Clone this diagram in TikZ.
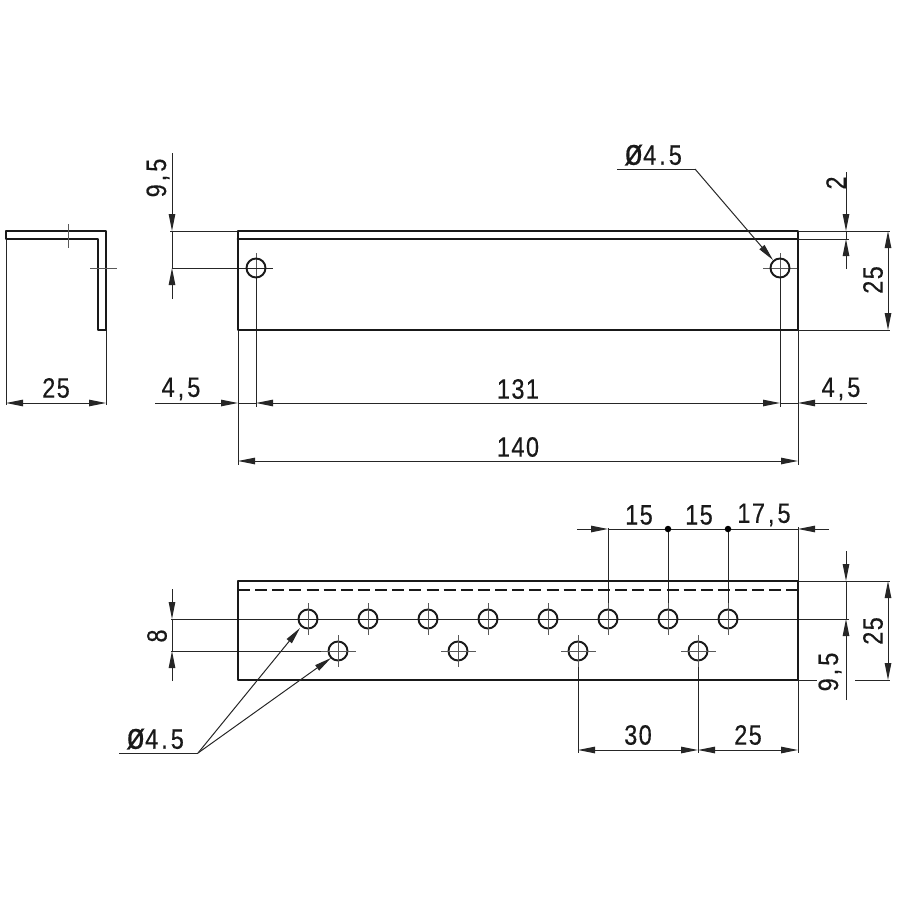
\documentclass[tikz,border=0pt]{standalone}
\usepackage{fontspec}
\setmainfont[FakeStretch=0.84,LetterSpace=5,FakeBold=0.4]{Liberation Sans}
\usetikzlibrary{arrows.meta}
\newcommand{\cma}{\hspace{3pt},\hspace{3pt}}
\newcommand{\pht}{\hspace{3pt}.\hspace{3pt}}
\newcommand{\phisym}{{\fontsize{37}{37}\selectfont ø}}
\tikzset{
  outline/.style={line width=2.7pt,black!90,line cap=round,line join=round},
  thin line/.style={line width=1pt,black!85},
  center line/.style={line width=0.7pt,black!65},
  hole/.style={line width=1.9pt,black!90},
  dim/.style={line width=1pt,black!85,{Stealth[length=17pt,width=6.5pt,inset=0pt]}-{Stealth[length=17pt,width=6.5pt,inset=0pt]}},
  dimend/.style={line width=1pt,black!85,-{Stealth[length=17pt,width=6.5pt,inset=0pt]}},
  label/.style={font=\fontsize{28}{28}\selectfont,inner sep=0pt,text=black!90},
  vlabel/.style={label,rotate=90},
  junction/.style={circle,fill=black,inner sep=0pt,minimum size=6.5pt}
}
\begin{document}
\begin{tikzpicture}[x=1pt,y=-1pt]
\useasboundingbox (0,0) rectangle (900,900);
% side view
\draw[thin line] (6,239) -- (6,405);
\draw[thin line] (106,330) -- (106,405);
\draw[outline] (6,239) -- (6,231) -- (106,231) -- (106,330) -- (98,330) -- (98,239) -- cycle;
\draw[center line] (68,224) -- (68,248);
\draw[center line] (90,268) -- (117,268);
\draw[dim] (6,403) -- (106,403);
\node[label] (side25) at (56,388) {25};
% top view
\coordinate (ht1) at (256,268);
\coordinate (ht2) at (780,268);
\draw[center line] (256,253) -- (256,278);
\draw[center line] (763,268) -- (798,268);
\draw[center line] (780,253) -- (780,278);
\draw[thin line] (172,268) -- (273,268);
\draw[thin line] (170,231) -- (238,231);
\draw[thin line] (256,278) -- (256,407);
\draw[thin line] (780,278) -- (780,407);
\draw[thin line] (238,330) -- (238,465);
\draw[thin line] (798,330) -- (798,465);
\draw[outline] (238,231) rectangle (798,330);
\draw[outline] (238,239) -- (798,239);
\draw[hole] (ht1) circle (9.5);
\draw[hole] (ht2) circle (9.5);
\draw[dimend] (172,153) -- (172,231);
\draw[dimend] (172,299) -- (172,268);
\draw[thin line] (172,231) -- (172,268);
\node[vlabel] (t95) at (158,178) {9\cma5};
\draw[dimend] (155,403) -- (238,403);
\draw[thin line] (238,403) -- (256,403);
\draw[dim] (256,403) -- (780,403);
\draw[thin line] (780,403) -- (798,403);
\draw[dimend] (867,403) -- (798,403);
\node[label] (t45l) at (181,389) {4\cma5};
\node[label] (t131) at (518,389) {131};
\node[label] (t45r) at (841,389) {4\cma5};
\draw[dim] (238,461) -- (798,461);
\node[label] (t140) at (518,447) {140};
\draw[thin line] (617,169) -- (695,169);
\draw[dimend] (695,169) -- (773,260);
\node[label] (tphi) at (653,155) {\phisym4\pht5};
\draw[thin line] (798,231) -- (890,231);
\draw[thin line] (798,239) -- (849,239);
\draw[thin line] (798,330) -- (890,330);
\draw[dimend] (846,172) -- (846,231);
\draw[dimend] (846,269) -- (846,239);
\draw[thin line] (846,231) -- (846,239);
\node[vlabel] (t2) at (836,183) {2};
\draw[dim] (888,231) -- (888,330);
\node[vlabel] (t25a) at (873,280) {25};
% bottom view
\draw[thin line] (171,619) -- (849,619);
\draw[thin line] (171,651) -- (322,651);
\draw[thin line] (608,528) -- (608,603);
\draw[thin line] (668,529) -- (668,603);
\draw[thin line] (728,529) -- (728,603);
\draw[thin line] (798,527) -- (798,753);
\draw[thin line] (578,667) -- (578,753);
\draw[thin line] (698,667) -- (698,753);
\draw[outline] (238,581) rectangle (798,680);
\draw[line width=2.1pt,black!90,dash pattern=on 12pt off 5.14pt] (238,590) -- (798,590);
\foreach \x in {308,368,428,488,548,608,668,728}{
  \draw[hole] (\x,619) circle (9.5);
  \draw[center line] (\x,603) -- (\x,635);
}
\foreach \x in {338,458,578,698}{
  \draw[hole] (\x,651) circle (9.5);
  \draw[center line] (\x,635) -- (\x,667);
  \draw[center line] (\x-17,651) -- (\x+18,651);
}
\draw[dimend] (577,529) -- (608,529);
\draw[thin line] (608,529) -- (798,529);
\draw[dimend] (829,529) -- (798,529);
\node[junction] (j1) at (668,529) {};
\node[junction] (j2) at (728,529) {};
\node[label] (t15a) at (639,515) {15};
\node[label] (t15b) at (699,515) {15};
\node[label] (t175) at (764,515) {17\cma5};
\draw[thin line] (798,581) -- (890,581);
\draw[thin line] (798,680) -- (817,680);
\draw[thin line] (855,680) -- (890,680);
\draw[dimend] (846,551) -- (846,581);
\draw[dimend] (846,700) -- (846,619);
\draw[thin line] (846,581) -- (846,619);
\node[vlabel] (t95b) at (830,672) {9\cma5};
\draw[dim] (888,581) -- (888,680);
\node[vlabel] (t25b) at (873,631) {25};
\draw[dim] (578,750) -- (698,750);
\draw[dim] (698,750) -- (798,750);
\node[label] (t30) at (638,735) {30};
\node[label] (t25c) at (748,735) {25};
\draw[dimend] (172,589) -- (172,619);
\draw[dimend] (172,681) -- (172,651);
\draw[thin line] (172,619) -- (172,651);
\node[vlabel] (t8) at (157,636) {8};
\draw[thin line] (119,753) -- (198,753);
\draw[dimend] (198,753) -- (300,628);
\draw[dimend] (198,753) -- (331,658);
\node[label] (tphib) at (155,739) {\phisym4\pht5};
\end{tikzpicture}
\end{document}
